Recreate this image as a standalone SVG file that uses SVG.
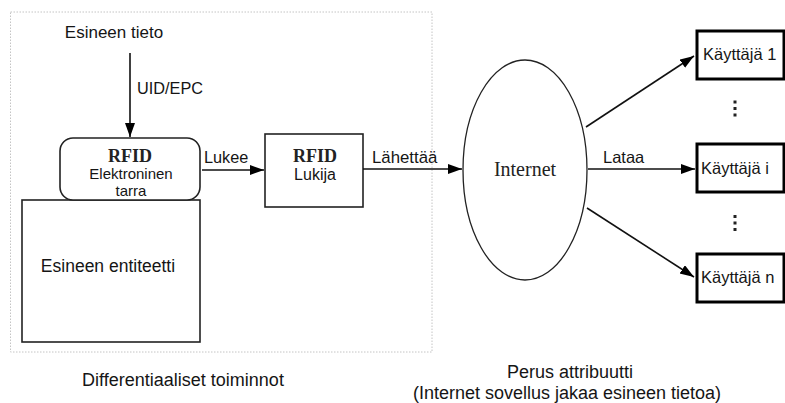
<svg xmlns="http://www.w3.org/2000/svg" width="785" height="403" viewBox="0 0 785 403">
<style>
  .t { font-family: "Liberation Sans", Arial, sans-serif; fill: #151515; }
  .s { font-family: "Liberation Serif", "Times New Roman", serif; fill: #222; }
  .box { fill: #fff; stroke: #222; stroke-width: 1.6; }
  .ubox { fill: #fff; stroke: #000; stroke-width: 3; }
  .con { fill: none; stroke: #111; stroke-width: 1.6; marker-end: url(#arr); }
  .dot { fill: #222; }
</style>
<defs>
  <marker id="arr" markerUnits="userSpaceOnUse" markerWidth="15" markerHeight="11" refX="14" refY="5" orient="auto">
    <path d="M0,0 L14,5 L0,10 z" fill="#000"/>
  </marker>
</defs>
<rect width="785" height="403" fill="#fff"/>
<rect id="frame" x="10.5" y="12" width="421.5" height="340" fill="none" stroke="#c4c4c4" stroke-width="1" stroke-dasharray="1.5 1.5"/>

<g id="source">
  <text class="t" x="114" y="38" font-size="17" text-anchor="middle">Esineen tieto</text>
</g>

<g id="entity">
  <rect class="box" x="22" y="200" width="178" height="142"/>
  <text class="t" x="108" y="272" font-size="17.5" text-anchor="middle">Esineen entiteetti</text>
</g>

<g id="tag">
  <rect class="box" x="60" y="138" width="140" height="62" rx="13" ry="13"/>
  <text class="s" x="130" y="162" font-size="18" font-weight="bold" text-anchor="middle">RFID</text>
  <text class="t" x="131" y="179" font-size="15" text-anchor="middle">Elektroninen</text>
  <text class="t" x="131" y="196" font-size="15" text-anchor="middle">tarra</text>
</g>

<g id="reader">
  <rect class="box" x="265" y="134" width="98" height="73"/>
  <text class="s" x="315" y="162" font-size="18" font-weight="bold" text-anchor="middle">RFID</text>
  <text class="t" x="315" y="180" font-size="16" text-anchor="middle">Lukija</text>
</g>

<g id="internet">
  <ellipse cx="525" cy="170" rx="62" ry="110" fill="#fff" stroke="#222" stroke-width="1.3"/>
  <text class="s" x="525" y="176" font-size="20" text-anchor="middle">Internet</text>
</g>

<g id="user1">
  <rect class="ubox" x="697" y="31" width="87" height="48"/>
  <text class="t" x="703" y="60" font-size="16.5">Käyttäjä 1</text>
</g>
<g id="useri">
  <rect class="ubox" x="697" y="144" width="87" height="48"/>
  <text class="t" x="701" y="174" font-size="16.5">Käyttäjä i</text>
</g>
<g id="usern">
  <rect class="ubox" x="697" y="254" width="87" height="48"/>
  <text class="t" x="701" y="283" font-size="16.5">Käyttäjä n</text>
</g>

<g id="dots">
  <rect class="dot" x="733.5" y="100.5" width="3" height="3"/>
  <rect class="dot" x="733.5" y="107" width="3" height="3"/>
  <rect class="dot" x="733.5" y="113.5" width="3" height="3"/>
  <rect class="dot" x="733.5" y="215" width="3" height="3"/>
  <rect class="dot" x="733.5" y="221.5" width="3" height="3"/>
  <rect class="dot" x="733.5" y="228" width="3" height="3"/>
</g>

<g id="connectors">
  <line class="con" x1="130" y1="53" x2="130" y2="137"/>
  <line class="con" x1="202" y1="170" x2="264" y2="170"/>
  <line class="con" x1="363" y1="169" x2="462" y2="169"/>
  <line class="con" x1="588" y1="169" x2="695" y2="169"/>
  <line class="con" x1="586" y1="127" x2="694" y2="56"/>
  <line class="con" x1="587" y1="208" x2="694" y2="277"/>
  <text class="t" x="137" y="94" font-size="16.3">UID/EPC</text>
  <text class="t" x="204" y="163" font-size="16.3">Lukee</text>
  <text class="t" x="372" y="163" font-size="16.8">Lähettää</text>
  <text class="t" x="603" y="163" font-size="16.5">Lataa</text>
</g>

<g id="captions">
  <text class="t" x="183" y="386" font-size="18" text-anchor="middle">Differentiaaliset toiminnot</text>
  <text class="t" x="570" y="378" font-size="18" text-anchor="middle">Perus attribuutti</text>
  <text class="t" x="567" y="399" font-size="18" text-anchor="middle">(Internet sovellus jakaa esineen tietoa)</text>
</g>
</svg>
